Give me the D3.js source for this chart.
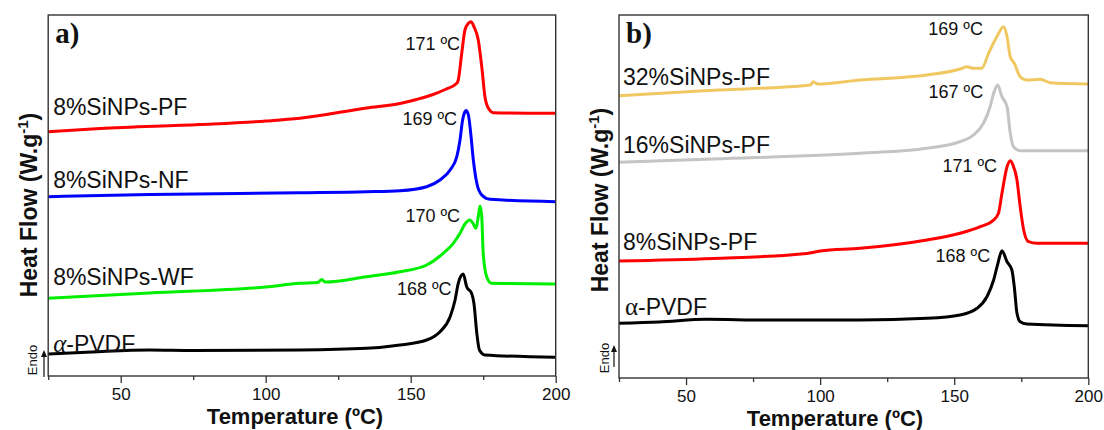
<!DOCTYPE html>
<html lang="en">
<head>
  <meta charset="UTF-8">
  <title>DSC heating curves</title>
  <script src="https://d3js.org/d3.v7.min.js"></script>
  <style>
    body {
      margin: 0;
      padding: 0;
      background: #fff;
      font-family: Arial, 'Liberation Sans', sans-serif;
    }
    svg text { fill: #111; }
  </style>
</head>
<body>
  <svg id="chart" width="1104" height="430"></svg>

  <script>
    // Temperature axis (ºC), same for both panels
    const tempDomain = [25, 200];
    const majorTicks = [50, 100, 150, 200];
    const minorTicks = [25, 75, 125, 175];

    // Panel a) heat flow (arbitrary units, curves are offset)
    const aPF = [[25,244.3],[42.9,247.5],[77.3,251.5],[100.1,255],[111.8,257.7],[134.8,268],[146.3,272.5],[152,276.5],[157.7,281.5],[161.9,286.5],[165.9,292.7],[166.4,296],[167.6,322.7],[168.7,346],[169.9,352.7],[170.8,354.3],[171.8,349.3],[173.3,336],[174.5,309.3],[175.6,279.3],[176.8,267.7],[178.5,263.3],[200,262.7]];
    const aNF = [[25,179.3],[60,181.5],[111.8,183.3],[134.8,184.3],[146.3,185.3],[155.5,189.3],[160.1,196],[163.6,206],[165.9,219.3],[167.0,236],[167.9,256],[168.7,264.3],[169.1,265.5],[169.9,261],[170.7,242.7],[171.6,216],[172.8,192.7],[174.5,181],[177.3,176.7],[200,174.3]];
    const aWF = [[25,77.7],[60,83],[100,89],[111.8,92.7],[118,93.5],[119.3,96.5],[120.5,94],[134.8,99.3],[146.3,104.3],[155.5,111],[161.2,122.7],[164.7,132.7],[167.0,142.7],[168.7,152],[170.4,156],[171.6,152],[172.5,147.7],[173.3,159.3],[173.9,170],[174.5,159.3],[175.0,122.7],[176.2,99.3],[177.9,92.7],[200,92]];
    const aPVDF = [[25,22],[40,24],[60,26],[75,25.5],[111.8,26],[134.8,27.7],[146.3,31],[155.5,36],[160.1,44.3],[163.6,59.3],[165.3,76],[166.4,92.7],[167.2,99.3],[168.1,102],[169.3,89.3],[171.0,82.7],[171.8,72.7],[172.8,42.7],[173.7,26],[175.6,21],[200,18.7]];

    // Panel b) heat flow
    const b32 = [[25,282.3],[55,287],[77.6,289.7],[96.3,293],[97.5,296.3],[99,294],[114.9,298],[139.8,303],[152.2,309],[154.7,311.3],[157.2,309.7],[160.3,309.7],[162.8,324.7],[165.9,341.3],[168.4,351.3],[169.7,341.3],[170.9,321.3],[172.4,314.7],[174.6,301.3],[177.1,298],[182.1,298.7],[185.8,295.3],[200,294]];
    const b16 = [[25,215.7],[60,219],[114.9,224.7],[139.8,229.7],[152.2,236.3],[157.2,243],[160.9,254.7],[163.4,271.3],[164.7,284.7],[166.2,293],[167.8,281.3],[169.7,271.3],[170.9,244.7],[172.1,231.3],[174.6,227.3],[200,227.3]];
    const b8 = [[25,117],[60,119.5],[95,124.5],[100,127],[114.9,129.7],[139.8,138],[152.2,144.7],[159.7,151.3],[164.7,158],[166.5,164.7],[167.8,184.7],[169.7,211.3],[170.9,217.3],[171.9,213],[173.4,198],[174.6,171.3],[175.9,148],[177.7,136.3],[180.9,134.7],[200,134.7]];
    const bPVDF = [[25,54.7],[40,56],[57.7,58.7],[80,58],[114.9,58],[139.8,59.7],[152.2,63],[158.5,69.7],[162.2,81.3],[164.7,98],[166.3,114.7],[167.8,127.3],[169.7,116.3],[171.5,108],[172.4,91.3],[173.4,64.7],[174.6,56.3],[177.1,54],[200,52.3]];

    // Labels: [text, temperature, heat flow]
    const aNames = [['8%SiNPs-PF', 26.7, 261], ['8%SiNPs-NF', 26.7, 188], ['8%SiNPs-WF', 26.7, 91], ['-PVDF', 26.7, 24]];
    const aPeaks = [['171 ºC', 167.0, 326], ['169 ºC', 166.0, 251], ['170 ºC', 167.0, 154], ['168 ºC', 164.1, 81]];
    const bNames = [['32%SiNPs-PF', 26.5, 293], ['16%SiNPs-PF', 26.5, 225], ['8%SiNPs-PF', 26.5, 128], ['-PVDF', 27.2, 63]];
    const bPeaks = [['169 ºC', 160.7, 343], ['167 ºC', 160.8, 280], ['171 ºC', 166.0, 206], ['168 ºC', 163.4, 116]];

    const svg = d3.select('#chart');
    svg.append('rect').attr('width', 1104).attr('height', 430).attr('fill', '#fff');

    function drawPanel(p) {
      const x = d3.scaleLinear().domain(tempDomain).range([p.left, p.right]);
      const y = d3.scaleLinear().domain([0, p.ymax]).range([p.bottom, p.top]);
      const g = svg.append('g');

      // curves
      const line = d3.line()
        .x(d => x(d[0]))
        .y(d => y(d[1]))
        .curve(d3.curveMonotoneX);
      p.series.forEach(s => {
        g.append('path')
          .datum(s.data)
          .attr('fill', 'none')
          .attr('stroke', s.color)
          .attr('stroke-width', 3)
          .attr('stroke-linejoin', 'round')
          .attr('d', line);
      });

      // frame
      g.append('rect')
        .attr('x', p.left).attr('y', p.top)
        .attr('width', p.right - p.left).attr('height', p.bottom - p.top)
        .attr('fill', 'none').attr('stroke', '#333').attr('stroke-width', 1.4);

      // x axis: major + minor ticks
      const major = g.append('g')
        .attr('transform', `translate(0,${p.bottom})`)
        .call(d3.axisBottom(x).tickValues(majorTicks).tickSize(7).tickPadding(5).tickFormat(d3.format('d')));
      const minor = g.append('g')
        .attr('transform', `translate(0,${p.bottom})`)
        .call(d3.axisBottom(x).tickValues(minorTicks).tickSize(4).tickFormat(''));
      [major, minor].forEach(ax => {
        ax.select('.domain').remove();
        ax.selectAll('line').attr('stroke', '#333').attr('stroke-width', 1.3);
      });
      major.selectAll('text')
        .attr('font-family', 'Arial, Liberation Sans, sans-serif')
        .attr('font-size', 17).attr('fill', '#111');

      // axis titles
      g.append('text')
        .attr('x', p.xTitleX).attr('y', p.xTitleY)
        .attr('text-anchor', 'middle')
        .attr('font-size', 22).attr('font-weight', 'bold')
        .text('Temperature (ºC)');

      const yt = g.append('text')
        .attr('transform', `translate(${p.yTitleX},${p.yTitleY}) rotate(-90)`)
        .attr('text-anchor', 'middle')
        .attr('font-size', 23).attr('font-weight', 'bold');
      yt.append('tspan').text('Heat Flow (W.g');
      yt.append('tspan').attr('font-size', 15).attr('dy', -9).text('-1');
      yt.append('tspan').attr('dy', 9).text(')');

      // Endo arrow
      g.append('text')
        .attr('transform', `translate(${p.endoX},${p.endoY}) rotate(-90)`)
        .attr('text-anchor', 'middle')
        .attr('font-size', 13)
        .text('Endo');
      g.append('line')
        .attr('x1', p.arrowX).attr('x2', p.arrowX)
        .attr('y1', p.arrowY1).attr('y2', p.arrowY2 + 5)
        .attr('stroke', '#111').attr('stroke-width', 1.2);
      g.append('path')
        .attr('d', `M${p.arrowX - 3},${p.arrowY2 + 7} L${p.arrowX},${p.arrowY2} L${p.arrowX + 3},${p.arrowY2 + 7} Z`)
        .attr('fill', '#111');

      // panel letter
      g.append('text')
        .attr('x', p.left + 7).attr('y', 43)
        .attr('font-family', "'Liberation Serif', 'Times New Roman', serif")
        .attr('font-size', 29).attr('font-weight', 'bold')
        .text(p.letter);

      // series names
      p.names.forEach((n, i) => {
        const t = g.append('text')
          .attr('x', x(n[1])).attr('y', y(n[2]))
          .attr('font-size', 23);
        if (i === p.names.length - 1) {
          t.append('tspan')
            .attr('font-family', "'Liberation Serif', 'Times New Roman', serif")
            .attr('font-style', p.alphaItalic ? 'italic' : 'normal')
            .attr('font-size', 25)
            .text('α');
        }
        t.append('tspan').text(n[0]);
      });

      // peak temperatures
      p.peaks.forEach(n => {
        g.append('text')
          .attr('x', x(n[1])).attr('y', y(n[2]))
          .attr('text-anchor', 'end')
          .attr('font-size', 18)
          .text(n[0]);
      });
    }

    drawPanel({
      left: 48.2, right: 555.7, top: 15, bottom: 376, ymax: 361,
      letter: 'a)', alphaItalic: true,
      xTitleX: 295, xTitleY: 424, yTitleX: 37, yTitleY: 205,
      endoX: 37, endoY: 360, arrowX: 44, arrowY1: 377, arrowY2: 350,
      series: [
        { data: aPF, color: '#ff0000' },
        { data: aNF, color: '#0000ff' },
        { data: aWF, color: '#00ee00' },
        { data: aPVDF, color: '#000000' }
      ],
      names: aNames, peaks: aPeaks
    });

    drawPanel({
      left: 619, right: 1088.3, top: 15, bottom: 378, ymax: 363,
      letter: 'b)', alphaItalic: false,
      xTitleX: 835, xTitleY: 426, yTitleX: 608, yTitleY: 200,
      endoX: 609, endoY: 358, arrowX: 614, arrowY1: 367, arrowY2: 345,
      series: [
        { data: b32, color: '#f0c862' },
        { data: b16, color: '#c4c4c4' },
        { data: b8, color: '#ff0000' },
        { data: bPVDF, color: '#000000' }
      ],
      names: bNames, peaks: bPeaks
    });
  </script>
</body>
</html>
